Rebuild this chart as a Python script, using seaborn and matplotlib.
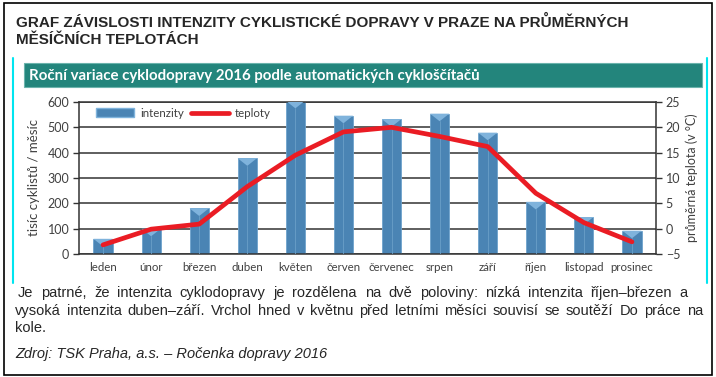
import numpy as np
import pandas as pd
import seaborn as sns
import matplotlib.pyplot as plt
from matplotlib.patches import Rectangle, Polygon, Patch
from matplotlib.lines import Line2D

# data
mesice = ["leden", "únor", "březen", "duben", "květen", "červen",
          "červenec", "srpen", "září", "říjen", "listopad", "prosinec"]
intenzity = [60, 100, 180, 378, 605, 546, 532, 554, 479, 206, 146, 92]
teploty = [-3.2, -0.1, 0.9, 8.3, 14.5, 19.1, 20.0, 18.2, 16.2, 7.0, 1.2, -2.6]
y_ticks_left = [0, 100, 200, 300, 400, 500, 600]
y_ticks_right = [-5, 0, 5, 10, 15, 20, 25]

df = pd.DataFrame({"mesic": mesice, "intenzity": intenzity, "teploty": teploty})
df["pos"] = np.arange(len(df))

sns.set_style("white")
plt.rcParams["font.family"] = ["Lato", "DejaVu Sans"]
arial = ["Liberation Sans", "DejaVu Sans"]

fig = plt.figure(figsize=(7.16, 3.77), dpi=100)
W, H = 716, 377


def justify(words, x_left, x_right, y, **kw):
    # spread words so the line fills x_left..x_right (pixels)
    r = fig.canvas.get_renderer()
    arts = [fig.text(0, 1 - y / H, wd, va="center", **kw) for wd in words]
    widths = [a.get_window_extent(r).width for a in arts]
    gap = (x_right - x_left - sum(widths)) / max(len(words) - 1, 1)
    x = x_left
    for a, w in zip(arts, widths):
        a.set_x(x / W)
        x += w + gap


# outer frame and cyan side rules
fig.add_artist(Rectangle((4 / W, 2 / H), 708 / W, 372 / H, transform=fig.transFigure,
                         fill=False, edgecolor="black", lw=1.2))
for xx in (13, 707):
    fig.add_artist(Line2D([xx / W, xx / W], [1 - 58 / H, 1 - 283 / H],
                          transform=fig.transFigure, color="#00e5f0", lw=1.5))

# main heading
fig.text(16 / W, 1 - 22 / H, "GRAF ZÁVISLOSTI INTENZITY CYKLISTICKÉ DOPRAVY V PRAZE NA PRŮMĚRNÝCH",
         weight="bold", fontsize=11, va="center", family=arial)
fig.text(16 / W, 1 - 40 / H, "MĚSÍČNÍCH TEPLOTÁCH",
         weight="bold", fontsize=11, va="center", family=arial)

# teal banner
fig.add_artist(Rectangle((24 / W, 1 - 87 / H), 678 / W, 24 / H, transform=fig.transFigure,
                         facecolor="#23857c", edgecolor="#6bb3ac", lw=0.8))
fig.text(29 / W, 1 - 76 / H, "Roční variace cyklodopravy 2016 podle automatických cykloščítačů",
         color="white", weight="bold", fontsize=10.8, va="center")

ax = fig.add_axes([79 / W, 1 - 254 / H, 577 / W, 152 / H])
sns.barplot(data=df, x="pos", y="intenzity", color="#4a84b4", width=0.4, saturation=1,
            edgecolor="#6ea3cd", linewidth=0.6, ax=ax, zorder=2, native_scale=True)

# bevelled top of each bar
for p in ax.patches:
    x0, w, h = p.get_x(), p.get_width(), p.get_height()
    d = min(30, h)
    ax.add_patch(Polygon([(x0, h), (x0 + w, h), (x0 + w / 2, h - d)], closed=True,
                         facecolor="#7fb3dc", edgecolor="none", zorder=3))
    ax.plot([x0 + w / 2, x0 + w / 2], [0, h - d], color="#6a9fc8", lw=0.6, zorder=3)

ax.set_ylim(0, 600)
ax.set_xlim(-0.5, len(mesice) - 0.5)
ax.set_yticks(y_ticks_left)
ax.set_xticks(df["pos"])
ax.set_xticklabels(mesice)
ax.set_xticks(np.arange(-0.5, len(mesice)), minor=True)
ax.tick_params(axis="x", which="major", length=0, labelsize=8.3, pad=6, colors="#404040")
ax.tick_params(axis="x", which="minor", length=4, width=1, direction="out", color="#333333")
ax.tick_params(axis="y", length=4, width=1, direction="out", labelsize=9, colors="#404040",
               left=True, pad=3)
ax.yaxis.grid(True, color="#333333", lw=1.1, zorder=0)
ax.set_axisbelow(True)
ax.set_xlabel("")
ax.set_ylabel("tisíc cyklistů / měsíc", fontsize=9.5, color="#404040", labelpad=5)
for side in ("left", "bottom", "right", "top"):
    ax.spines[side].set_color("#333333")
    ax.spines[side].set_linewidth(1.1)
ax.tick_params(axis="y", color="#333333")

ax2 = ax.twinx()
sns.lineplot(data=df, x="pos", y="teploty", color="#ea1c24", lw=3.4, ax=ax2, zorder=5)
ax2.set_ylim(-5, 25)
ax2.set_yticks(y_ticks_right)
ax2.tick_params(axis="y", length=4, width=1, direction="out", labelsize=9, colors="#404040",
                pad=3, color="#333333")
ax2.set_ylabel("průměrná teplota (v °C)", fontsize=9, color="#404040", labelpad=4)
ax2.set_xlabel("")
for side in ax2.spines:
    ax2.spines[side].set_visible(False)

handles = [Patch(facecolor="#4a84b4", edgecolor="#7fb3dc"),
           Line2D([0], [0], color="#ea1c24", lw=3.4)]
ax2.legend(handles, ["intenzity", "teploty"], ncol=2, frameon=False, loc="upper left",
           bbox_to_anchor=(0.012, 1.03), fontsize=8.3, handlelength=3.3, handleheight=0.8,
           columnspacing=0.6, handletextpad=0.5, labelcolor="#404040")

# commentary below
fs = 10.5
line1 = "Je patrné, že intenzita cyklodopravy je rozdělena na dvě poloviny: nízká intenzita říjen–březen a"
line2 = "vysoká intenzita duben–září. Vrchol hned v květnu před letními měsíci souvisí se soutěží Do práce na"
justify(line1.split(), 18, 688, 293, fontsize=fs, family=arial)
justify(line2.split(), 15, 703, 311, fontsize=fs, family=arial)
fig.text(15 / W, 1 - 328 / H, "kole.", fontsize=fs, va="center", family=arial)
fig.text(15 / W, 1 - 354 / H, "Zdroj: TSK Praha, a.s. – Ročenka dopravy 2016",
         fontsize=fs, style="italic", va="center", family=arial)

fig.savefig("out.png", dpi=100)
